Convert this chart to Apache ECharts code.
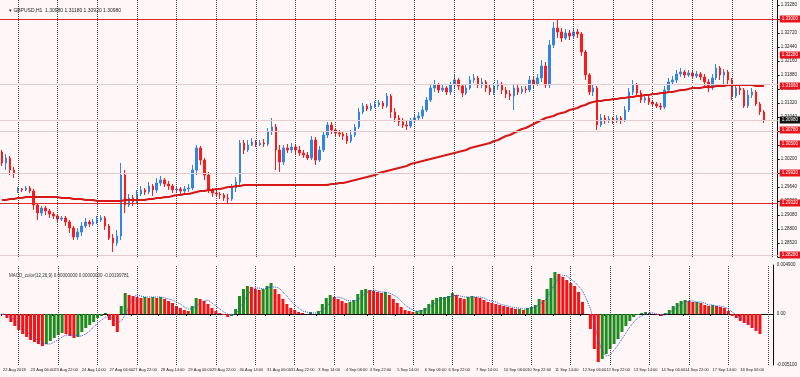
<!DOCTYPE html>
<html>
<head>
<meta charset="utf-8">
<script src="https://cdn.jsdelivr.net/npm/echarts@6/dist/echarts.min.js"></script>
<style>
  html, body { margin: 0; padding: 0; background: #fff7f7; }
  #chart { width: 800px; height: 377px; }
</style>
</head>
<body>
<div id="chart"></div>
<script>
// candles: [open, close, low, high]
const candles = [
  [1.3034,1.3012,1.3006,1.3038],[1.3012,1.3022,1.2998,1.3030],[1.3022,1.2998,1.2988,1.3026],[1.2998,1.2990,1.2982,1.3004],
  [1.2956,1.2960,1.2952,1.2964],[1.2960,1.2958,1.2954,1.2962],[1.2958,1.2962,1.2956,1.2966],[1.2962,1.2956,1.2952,1.2966],
  [1.2956,1.2928,1.2918,1.2960],[1.2928,1.2912,1.2898,1.2932],[1.2912,1.2922,1.2906,1.2926],[1.2922,1.2916,1.2908,1.2926],
  [1.2916,1.2910,1.2902,1.2920],[1.2910,1.2906,1.2900,1.2914],[1.2906,1.2900,1.2894,1.2910],[1.2900,1.2902,1.2896,1.2906],
  [1.2902,1.2894,1.2886,1.2906],[1.2894,1.2882,1.2872,1.2898],[1.2882,1.2864,1.2858,1.2886],[1.2864,1.2874,1.2858,1.2882],
  [1.2874,1.2886,1.2866,1.2894],[1.2886,1.2894,1.2882,1.2902],[1.2894,1.2890,1.2884,1.2898],[1.2890,1.2894,1.2886,1.2900],
  [1.2894,1.2898,1.2890,1.2906],[1.2898,1.2902,1.2894,1.2908],[1.2902,1.2886,1.2878,1.2906],[1.2886,1.2862,1.2858,1.2890],
  [1.2862,1.2852,1.2834,1.2870],[1.2852,1.2866,1.2846,1.2878],[1.2866,1.2988,1.2858,1.3012],[1.2988,1.2928,1.2912,1.2998],
  [1.2928,1.2942,1.2924,1.2950],[1.2942,1.2934,1.2926,1.2948],[1.2934,1.2950,1.2930,1.2958],[1.2950,1.2958,1.2946,1.2966],
  [1.2958,1.2954,1.2948,1.2962],[1.2954,1.2966,1.2950,1.2974],[1.2966,1.2958,1.2946,1.2970],[1.2958,1.2972,1.2952,1.2982],
  [1.2972,1.2978,1.2966,1.2986],[1.2978,1.2970,1.2964,1.2982],[1.2970,1.2966,1.2958,1.2976],[1.2966,1.2958,1.2952,1.2970],
  [1.2958,1.2960,1.2954,1.2966],[1.2960,1.2956,1.2950,1.2964],[1.2956,1.2960,1.2952,1.2966],[1.2960,1.2962,1.2954,1.2970],
  [1.2962,1.2998,1.2958,1.3008],[1.2998,1.3042,1.2988,1.3048],[1.3042,1.3018,1.3008,1.3046],[1.3018,1.2988,1.2978,1.3022],
  [1.2988,1.2958,1.2952,1.2994],[1.2958,1.2952,1.2944,1.2962],[1.2952,1.2950,1.2944,1.2958],[1.2950,1.2948,1.2940,1.2954],
  [1.2948,1.2942,1.2936,1.2952],[1.2942,1.2940,1.2932,1.2950],[1.2940,1.2962,1.2936,1.2970],[1.2962,1.2974,1.2954,1.2984],
  [1.2974,1.3052,1.2968,1.3058],[1.3052,1.3038,1.3030,1.3058],[1.3038,1.3048,1.3034,1.3058],[1.3048,1.3054,1.3046,1.3062],
  [1.3054,1.3048,1.3044,1.3058],[1.3048,1.3052,1.3046,1.3058],[1.3052,1.3050,1.3044,1.3060],[1.3050,1.3074,1.3046,1.3082],
  [1.3074,1.3084,1.3068,1.3102],[1.3084,1.3038,1.2998,1.3090],[1.3038,1.3014,1.2994,1.3048],[1.3014,1.3042,1.3008,1.3048],
  [1.3042,1.3038,1.3032,1.3050],[1.3038,1.3044,1.3032,1.3052],[1.3044,1.3038,1.3030,1.3050],[1.3038,1.3032,1.3026,1.3046],
  [1.3032,1.3028,1.3022,1.3038],[1.3028,1.3022,1.3018,1.3034],[1.3022,1.3058,1.3018,1.3066],[1.3058,1.3018,1.3008,1.3064],
  [1.3018,1.3038,1.3014,1.3046],[1.3038,1.3068,1.3034,1.3074],[1.3068,1.3088,1.3062,1.3094],[1.3088,1.3078,1.3070,1.3094],
  [1.3078,1.3072,1.3066,1.3082],[1.3072,1.3070,1.3064,1.3078],[1.3070,1.3066,1.3058,1.3076],[1.3066,1.3056,1.3050,1.3072],
  [1.3056,1.3068,1.3052,1.3078],[1.3068,1.3084,1.3064,1.3090],[1.3084,1.3114,1.3080,1.3122],[1.3114,1.3126,1.3110,1.3132],
  [1.3126,1.3120,1.3116,1.3130],[1.3120,1.3126,1.3116,1.3132],[1.3126,1.3128,1.3122,1.3136],[1.3128,1.3132,1.3124,1.3138],
  [1.3132,1.3126,1.3120,1.3136],[1.3126,1.3146,1.3122,1.3152],[1.3146,1.3114,1.3102,1.3150],[1.3114,1.3102,1.3094,1.3122],
  [1.3102,1.3094,1.3086,1.3108],[1.3094,1.3088,1.3082,1.3102],[1.3088,1.3086,1.3078,1.3096],[1.3086,1.3096,1.3082,1.3102],
  [1.3096,1.3102,1.3092,1.3110],[1.3102,1.3106,1.3098,1.3114],[1.3106,1.3118,1.3100,1.3126],[1.3118,1.3138,1.3114,1.3144],
  [1.3138,1.3162,1.3134,1.3170],[1.3162,1.3168,1.3154,1.3178],[1.3168,1.3158,1.3152,1.3172],[1.3158,1.3162,1.3154,1.3168],
  [1.3162,1.3154,1.3148,1.3166],[1.3154,1.3168,1.3148,1.3174],[1.3168,1.3178,1.3162,1.3188],[1.3178,1.3166,1.3158,1.3182],
  [1.3166,1.3152,1.3144,1.3170],[1.3152,1.3162,1.3148,1.3168],[1.3162,1.3178,1.3158,1.3186],[1.3178,1.3182,1.3172,1.3190],
  [1.3182,1.3168,1.3162,1.3186],[1.3168,1.3174,1.3162,1.3182],[1.3174,1.3162,1.3154,1.3178],[1.3162,1.3154,1.3148,1.3168],
  [1.3154,1.3166,1.3148,1.3172],[1.3166,1.3170,1.3158,1.3178],[1.3170,1.3158,1.3150,1.3174],[1.3158,1.3150,1.3142,1.3164],
  [1.3150,1.3146,1.3138,1.3158],[1.3146,1.3162,1.3118,1.3170],[1.3162,1.3154,1.3148,1.3168],[1.3154,1.3160,1.3150,1.3166],
  [1.3160,1.3158,1.3152,1.3166],[1.3158,1.3178,1.3154,1.3186],[1.3178,1.3170,1.3162,1.3184],[1.3170,1.3182,1.3166,1.3190],
  [1.3182,1.3206,1.3174,1.3218],[1.3206,1.3168,1.3162,1.3214],[1.3168,1.3248,1.3162,1.3258],[1.3248,1.3282,1.3242,1.3294],
  [1.3282,1.3274,1.3262,1.3298],[1.3274,1.3262,1.3254,1.3282],[1.3262,1.3272,1.3258,1.3280],[1.3272,1.3266,1.3258,1.3278],
  [1.3266,1.3274,1.3262,1.3280],[1.3274,1.3270,1.3262,1.3280],[1.3270,1.3234,1.3226,1.3274],[1.3234,1.3188,1.3178,1.3238],
  [1.3188,1.3154,1.3148,1.3192],[1.3154,1.3162,1.3146,1.3168],[1.3162,1.3088,1.3078,1.3166],[1.3088,1.3102,1.3084,1.3110],
  [1.3102,1.3098,1.3090,1.3108],[1.3098,1.3100,1.3092,1.3106],[1.3100,1.3096,1.3090,1.3104],[1.3096,1.3102,1.3092,1.3108],
  [1.3102,1.3098,1.3090,1.3106],[1.3098,1.3118,1.3094,1.3126],[1.3118,1.3154,1.3114,1.3162],[1.3154,1.3168,1.3148,1.3178],
  [1.3168,1.3152,1.3144,1.3172],[1.3152,1.3138,1.3132,1.3158],[1.3138,1.3142,1.3132,1.3148],[1.3142,1.3134,1.3128,1.3146],
  [1.3134,1.3130,1.3124,1.3138],[1.3130,1.3126,1.3122,1.3134],[1.3126,1.3124,1.3118,1.3132],[1.3124,1.3158,1.3120,1.3166],
  [1.3158,1.3174,1.3154,1.3182],[1.3174,1.3178,1.3168,1.3186],[1.3178,1.3190,1.3172,1.3198],[1.3190,1.3194,1.3184,1.3202],
  [1.3194,1.3188,1.3182,1.3198],[1.3188,1.3192,1.3184,1.3198],[1.3192,1.3186,1.3180,1.3196],[1.3186,1.3190,1.3182,1.3196],
  [1.3190,1.3184,1.3178,1.3194],[1.3184,1.3174,1.3166,1.3190],[1.3174,1.3162,1.3154,1.3180],[1.3162,1.3182,1.3158,1.3190],
  [1.3182,1.3202,1.3178,1.3210],[1.3202,1.3188,1.3178,1.3206],[1.3188,1.3194,1.3168,1.3200],[1.3194,1.3178,1.3170,1.3198],
  [1.3178,1.3146,1.3138,1.3182],[1.3146,1.3162,1.3142,1.3170],[1.3162,1.3158,1.3148,1.3168],[1.3158,1.3126,1.3122,1.3162],
  [1.3126,1.3148,1.3122,1.3158],[1.3148,1.3154,1.3142,1.3162],[1.3154,1.3130,1.3126,1.3158],[1.3130,1.3114,1.3108,1.3134],
  [1.3114,1.3098,1.3092,1.3118]
];

// moving average (red line)
const maLine = [
  1.2938,1.2938,1.2940,1.2940,1.2942,1.2942,1.2944,1.2944,
  1.2944,1.2944,1.2944,1.2944,1.2944,1.2944,1.2944,
  1.2942,1.2942,1.2942,1.2940,1.2940,1.2940,1.2938,1.2938,1.2938,1.2936,
  1.2936,1.2936,1.2936,1.2936,1.2936,1.2936,
  1.2938,1.2938,1.2938,1.2938,1.2938,1.2938,1.2940,
  1.2940,1.2942,1.2942,1.2944,1.2944,1.2946,
  1.2948,1.2948,1.2950,1.2950,1.2952,1.2954,
  1.2956,1.2956,1.2958,1.2958,1.2960,1.2960,1.2962,
  1.2964,1.2964,1.2966,1.2966,1.2968,1.2968,
  1.2968,1.2968,1.2968,1.2968,1.2968,1.2968,1.2968,1.2968,1.2968,1.2968,
  1.2968,1.2968,1.2968,1.2968,1.2968,1.2968,1.2968,1.2968,1.2968,1.2968,
  1.2970,1.2970,1.2972,1.2972,1.2974,
  1.2976,1.2978,1.2980,1.2982,
  1.2984,1.2986,1.2988,1.2992,
  1.2994,1.2996,1.2998,1.3000,
  1.3002,1.3004,1.3006,1.3010,1.3012,1.3014,1.3016,1.3018,1.3020,1.3022,1.3024,1.3026,
  1.3028,1.3030,1.3032,1.3034,1.3036,1.3038,1.3042,1.3044,1.3046,1.3048,1.3050,1.3052,1.3056,
  1.3058,1.3062,1.3066,1.3068,1.3072,1.3076,1.3080,1.3082,1.3086,1.3090,1.3094,1.3098,
  1.3102,1.3104,1.3106,1.3110,1.3112,1.3114,1.3118,1.3120,1.3122,1.3126,1.3128,1.3132,1.3134,
  1.3136,1.3136,1.3138,1.3138,1.3140,1.3140,1.3142,1.3142,1.3144,1.3144,1.3146,1.3146,
  1.3148,1.3148,1.3150,1.3150,1.3152,1.3152,1.3154,1.3154,1.3156,1.3158,1.3158,1.3160,1.3162,
  1.3162,1.3162,1.3164,1.3164,1.3164,1.3166,1.3166,1.3166,1.3168,1.3168,
  1.3168,1.3168,1.3168,1.3168,1.3168,1.3166,1.3166,1.3166
];

// MACD histogram and signal
const macdHist = [
  -0.0001,-0.0004,-0.0008,-0.0012,-0.0016,-0.0020,-0.0023,-0.0026,-0.0028,-0.0030,
  -0.0032,-0.0030,-0.0027,-0.0024,-0.0021,-0.0019,-0.0020,-0.0022,-0.0024,-0.0023,
  -0.0018,-0.0014,-0.0011,-0.0008,-0.0004,-0.0002,0.0001,-0.0006,-0.0012,-0.0018,
  0.0008,0.0021,0.0019,0.0018,0.0017,0.0016,0.0017,0.0016,0.0017,0.0016,
  0.0017,0.0015,0.0013,0.0011,0.0008,0.0006,0.0004,0.0003,0.0008,0.0016,
  0.0015,0.0013,0.0010,0.0006,0.0003,0.0001,-0.0001,-0.0003,-0.0002,0.0005,
  0.0018,0.0025,0.0028,0.0027,0.0025,0.0024,0.0025,0.0028,0.0031,0.0025,
  0.0020,0.0015,0.0010,0.0006,0.0004,0.0002,0.0001,0,0.0002,0,
  0.0003,0.0010,0.0016,0.0019,0.0017,0.0015,0.0013,0.0011,0.0012,0.0014,
  0.0020,0.0024,0.0025,0.0024,0.0023,0.0022,0.0021,0.0022,0.0019,0.0015,
  0.0011,0.0007,0.0004,0.0003,0.0002,0.0003,0.0004,0.0006,0.0010,0.0014,
  0.0016,0.0017,0.0017,0.0018,0.0021,0.0019,0.0016,0.0015,0.0017,0.0018,
  0.0017,0.0016,0.0014,0.0012,0.0011,0.0010,0.0009,0.0008,0.0007,0.0006,
  0.0005,0.0005,0.0004,0.0006,0.0007,0.0009,0.0015,0.0014,0.0025,0.0036,
  0.0042,0.0040,0.0037,0.0034,0.0031,0.0028,0.0022,0.0012,0,-0.0015,
  -0.0035,-0.0048,-0.0045,-0.0040,-0.0035,-0.0030,-0.0025,-0.0018,-0.0012,-0.0007,
  -0.0003,-0.0001,0.0001,0.0002,0.0001,0,-0.0001,-0.0002,0.0001,0.0004,
  0.0008,0.0011,0.0013,0.0014,0.0013,0.0012,0.0012,0.0011,0.0009,0.0008,
  0.0009,0.0008,0.0007,0.0006,0.0003,-0.0002,-0.0004,-0.0007,-0.0009,-0.0011,
  -0.0014,-0.0017,-0.0020
];
const macdSignal = [
  0,-0.0001,-0.0003,-0.0006,-0.0010,-0.0014,-0.0018,-0.0021,-0.0024,-0.0027,
  -0.0029,-0.0030,-0.0030,-0.0028,-0.0026,-0.0023,-0.0021,-0.0021,-0.0021,-0.0022,
  -0.0022,-0.0020,-0.0017,-0.0013,-0.0009,-0.0006,-0.0003,-0.0003,-0.0005,-0.0009,
  -0.0007,-0.0001,0.0008,0.0017,0.0019,0.0018,0.0017,0.0017,0.0017,0.0017,
  0.0017,0.0016,0.0015,0.0014,0.0012,0.0010,0.0007,0.0005,0.0005,0.0008,
  0.0011,0.0013,0.0014,0.0011,0.0008,0.0005,0.0002,0,-0.0001,0,
  0.0005,0.0012,0.0019,0.0024,0.0026,0.0026,0.0025,0.0026,0.0027,0.0027,
  0.0026,0.0022,0.0018,0.0013,0.0009,0.0006,0.0003,0.0002,0.0001,0.0001,
  0.0001,0.0004,0.0007,0.0012,0.0016,0.0017,0.0016,0.0014,0.0013,0.0013,
  0.0014,0.0017,0.0021,0.0023,0.0024,0.0023,0.0022,0.0022,0.0021,0.0019,
  0.0017,0.0013,0.0009,0.0006,0.0004,0.0003,0.0003,0.0004,0.0006,0.0009,
  0.0012,0.0015,0.0016,0.0017,0.0018,0.0019,0.0018,0.0017,0.0017,0.0017,
  0.0017,0.0017,0.0016,0.0014,0.0013,0.0012,0.0010,0.0009,0.0008,0.0007,
  0.0006,0.0006,0.0005,0.0005,0.0006,0.0007,0.0009,0.0012,0.0016,0.0023,
  0.0030,0.0036,0.0039,0.0038,0.0035,0.0032,0.0028,0.0023,0.0015,0.0005,
  -0.0010,-0.0026,-0.0037,-0.0042,-0.0041,-0.0036,-0.0031,-0.0025,-0.0019,-0.0013,
  -0.0008,-0.0004,-0.0002,0,0.0001,0.0001,0,-0.0001,-0.0001,0.0001,
  0.0004,0.0007,0.0010,0.0012,0.0013,0.0013,0.0012,0.0012,0.0011,0.0009,
  0.0009,0.0008,0.0008,0.0007,0.0005,0.0002,-0.0001,-0.0004,-0.0007,-0.0009,
  -0.0011,-0.0014,-0.0017
];

// time axis labels (one every 16 bars of the original H1 chart)
const xLabels = [
  "22 Aug 2018","23 Aug 06:00","23 Aug 22:00","24 Aug 14:00","27 Aug 06:00","27 Aug 22:00",
  "28 Aug 14:00","29 Aug 06:00","29 Aug 22:00","30 Aug 14:00","31 Aug 06:00","31 Aug 22:00",
  "3 Sep 14:00","4 Sep 06:00","4 Sep 22:00","5 Sep 14:00","6 Sep 06:00","6 Sep 22:00",
  "7 Sep 14:00","10 Sep 06:00","10 Sep 22:00","11 Sep 14:00","12 Sep 06:00","12 Sep 22:00",
  "13 Sep 14:00","14 Sep 06:00","14 Sep 22:00","17 Sep 14:00","18 Sep 06:00"
];

// horizontal price levels
const redLevels = [1.3300, 1.2932];
const faintLevels = [1.3170, 1.3098, 1.3076, 1.2992, 1.2828];
const boxLevels = [1.3228, 1.3166, 1.3078, 1.3050, 1.2992, 1.2828];

const SLOTS = 196;
const slots = Array.from({ length: SLOTS }, (_, i) => String(i));
const labelAt = {};
xLabels.forEach((t, k) => { labelAt[Math.round(k * 20 / 3)] = t; });
const daySlots = [];
for (let s = 4; s < SLOTS; s += 10) daySlots.push(s);

const FONT = "'Liberation Sans', Arial, sans-serif";
const UP = "#2f86e8", DOWN = "#ff1a1a";
const GREEN = "#1d8c1d", RED = "#ff1010";

function boxLabel(bg) {
  return {
    show: true, position: "end", distance: 2,
    formatter: p => Number(p.value).toFixed(5),
    backgroundColor: bg, color: "#fff",
    fontSize: 4.5, fontFamily: FONT, padding: [1, 2]
  };
}
function sepLines() {
  return daySlots.map(s => ({
    xAxis: s,
    lineStyle: { color: "#444", type: "dotted", width: 1 },
    label: { show: false }
  }));
}

const lastClose = candles[candles.length - 1][1];
const HIDDEN = { color: "rgba(255,255,255,0)", width: 1, type: "solid" };

const levelLines = [
  ...faintLevels.map(v => ({ yAxis: v, lineStyle: { color: "#e5cccc", width: 1, type: "solid" }, label: { show: false } })),
  ...redLevels.map(v => ({ yAxis: v, lineStyle: { color: "#e02828", width: 1, type: "solid" }, label: boxLabel("#e8141c") })),
  ...boxLevels.map(v => ({ yAxis: v, lineStyle: HIDDEN, label: boxLabel("#e8141c") })),
  { yAxis: lastClose, lineStyle: HIDDEN, label: boxLabel("#111") }
];

const chart = echarts.init(document.getElementById("chart"));
chart.setOption({
  animation: false,
  backgroundColor: "#fff7f7",
  title: [
    { text: "\u25BE GBPUSD,H1  1.30980 1.31180 1.30920 1.30980", left: 4, top: 3,
      textStyle: { fontSize: 5, fontWeight: "normal", color: "#222", fontFamily: FONT } },
    { text: "MACD_color(12,26,9) 0.00000000 0.00000000 -0.00199781", left: 4, top: 268,
      textStyle: { fontSize: 4.5, fontWeight: "normal", color: "#333", fontFamily: FONT } }
  ],
  grid: [
    { left: 0, right: 17, top: 0, height: 257 },
    { left: 0, right: 17, top: 265, height: 100 }
  ],
  xAxis: [
    { type: "category", gridIndex: 0, data: slots, boundaryGap: true,
      axisLine: { show: false }, axisTick: { show: false }, axisLabel: { show: false },
      splitLine: { show: false } },
    { type: "category", gridIndex: 1, data: slots, boundaryGap: true,
      axisLine: { show: true, lineStyle: { color: "#111", width: 1 } },
      axisTick: { show: true, interval: i => labelAt[i] !== undefined, length: 2, lineStyle: { color: "#111" } },
      axisLabel: { show: true, interval: i => labelAt[i] !== undefined, showMinLabel: true,
        formatter: (v, i) => labelAt[i] || "", align: "left", margin: 3,
        fontSize: 4, color: "#222", fontFamily: FONT },
      splitLine: { show: false } }
  ],
  yAxis: [
    { type: "value", gridIndex: 0, position: "right", min: 1.2824, max: 1.3338, interval: 0.0028,
      axisLine: { show: true, lineStyle: { color: "#111" } },
      axisTick: { show: true, length: 2, lineStyle: { color: "#111" } },
      axisLabel: { fontSize: 4.5, color: "#222", margin: 3, fontFamily: FONT,
        showMaxLabel: false, formatter: v => v.toFixed(5) },
      splitLine: { show: false } },
    { type: "value", gridIndex: 1, position: "right", min: -0.0051, max: 0.0049, interval: 0.0001,
      axisLine: { show: true, lineStyle: { color: "#111" } },
      axisTick: { show: false },
      axisLabel: { fontSize: 4.5, color: "#222", margin: 3, fontFamily: FONT,
        formatter: v => {
          if (Math.abs(v) < 1e-9) return "0.00";
          if (Math.abs(v - 0.0049) < 1e-9 || Math.abs(v + 0.0051) < 1e-9) return v.toFixed(6);
          return "";
        } },
      splitLine: { show: false } }
  ],
  series: [
    {
      name: "price", type: "candlestick", xAxisIndex: 0, yAxisIndex: 0,
      data: candles, barWidth: 2,
      itemStyle: { color: UP, color0: DOWN, borderColor: UP, borderColor0: DOWN, borderWidth: 1 },
      markLine: { silent: true, symbol: ["none", "none"], data: sepLines() }
    },
    {
      name: "MA", type: "line", xAxisIndex: 0, yAxisIndex: 0, data: maLine,
      symbol: "none", smooth: false,
      lineStyle: { color: "#d81818", width: 2 },
      markLine: { silent: true, symbol: ["none", "none"], precision: 4, data: levelLines }
    },
    {
      name: "MACD", type: "bar", xAxisIndex: 1, yAxisIndex: 1,
      data: macdHist.map((v, i) => ({
        value: v,
        itemStyle: { color: i > 0 && v >= macdHist[i - 1] ? GREEN : RED }
      })),
      barWidth: 3,
      markLine: { silent: true, symbol: ["none", "none"], data: sepLines() }
    },
    {
      name: "Signal", type: "line", xAxisIndex: 1, yAxisIndex: 1, data: macdSignal,
      symbol: "none", lineStyle: { color: "#2a4fe0", width: 1, type: "dotted" }
    }
  ]
});
</script>
</body>
</html>
